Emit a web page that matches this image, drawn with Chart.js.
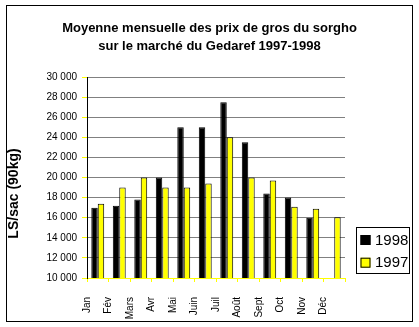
<!DOCTYPE html>
<html>
<head>
<meta charset="utf-8">
<script src="https://cdn.jsdelivr.net/npm/chart.js@4/dist/chart.umd.min.js"></script>
<style>
    html, body { margin: 0; padding: 0; background: #fff; }
    #cadre {
        position: absolute;
        left: 6px;
        top: 5px;
        width: 407px;
        height: 317px;
        box-sizing: border-box;
        border: 1px solid #000;
    }
    #cadre canvas { display: block; }
</style>
</head>
<body>
<div id="cadre"><canvas id="prixSorgho" width="405" height="315"></canvas></div>
<script>
// Mois et prix moyens (LS par sac de 90 kg)
const mois = ['Jan', 'Fév', 'Mars', 'Avr', 'Mai', 'Juin', 'Juil', 'Août', 'Sept', 'Oct', 'Nov', 'Déc'];
const prix1998 = [17000, 17200, 17800, 20000, 25000, 25000, 27500, 23500, 18400, 18000, 16000, null];
const prix1997 = [17400, 19000, 20000, 19000, 19000, 19400, 24000, 20000, 19700, 17100, 16900, 16050];
const annees = ['1998', '1997'];
const titre = ['Moyenne mensuelle des prix de gros du sorgho', 'sur le marché du Gedaref 1997-1998'];
const titreAxeY = 'LS/sac (90kg)';

const POLICE = '"Liberation Sans", Arial, sans-serif';
Chart.defaults.font.family = POLICE;
Chart.defaults.color = '#000';

// "30 000" style thousands
function formatMilliers(v) {
    return String(v).replace(/\B(?=(\d{3})+(?!\d))/g, ' ');
}

// Vertical axis title, drawn a bit below the plot centre
const titreY = {
    id: 'titreY',
    afterDraw(chart) {
        const ctx = chart.ctx;
        const a = chart.chartArea;
        ctx.save();
        ctx.translate(7, (a.top + a.bottom) / 2 + 16);
        ctx.rotate(-Math.PI / 2);
        ctx.font = 'bold 14px ' + POLICE;
        ctx.fillStyle = '#000';
        ctx.textAlign = 'center';
        ctx.textBaseline = 'middle';
        ctx.fillText(titreAxeY, 0, 0);
        ctx.restore();
    }
};

// Boxed legend to the right of the plot
const legendeEncadree = {
    id: 'legendeEncadree',
    afterDraw(chart) {
        const ctx = chart.ctx;
        const a = chart.chartArea;
        const x = a.right + 11;
        const y = a.bottom - 51;
        ctx.save();
        ctx.fillStyle = '#fff';
        ctx.fillRect(x, y, 53, 46);
        ctx.strokeStyle = '#000';
        ctx.lineWidth = 1;
        ctx.strokeRect(x + 0.5, y + 0.5, 53, 46);
        ctx.font = '15px ' + POLICE;
        ctx.textBaseline = 'middle';
        chart.data.datasets.forEach((ds, i) => {
            const sy = y + 8 + i * 22.7;
            ctx.fillStyle = ds.backgroundColor;
            ctx.fillRect(x + 4.5, sy, 10, 10);
            ctx.strokeStyle = '#000';
            ctx.strokeRect(x + 5, sy + 0.5, 9, 9);
            ctx.fillStyle = '#000';
            ctx.fillText(ds.label, x + 19, sy + 5.5);
        });
        ctx.restore();
    }
};

const ctx = document.getElementById('prixSorgho').getContext('2d');
new Chart(ctx, {
    type: 'bar',
    data: {
        labels: mois,
        datasets: [{
            label: annees[0],
            data: prix1998,
            backgroundColor: '#000000',
            borderColor: '#000000',
            borderWidth: 1
        }, {
            label: annees[1],
            data: prix1997,
            backgroundColor: '#ffff00',
            borderColor: '#000000',
            borderWidth: 1
        }]
    },
    options: {
        responsive: false,
        animation: false,
        events: [],
        datasets: {
            bar: { categoryPercentage: 0.6, barPercentage: 1 }
        },
        plugins: {
            legend: { display: false },
            tooltip: { enabled: false },
            title: {
                display: true,
                text: titre,
                color: '#000',
                font: { size: 13, weight: 'bold', lineHeight: 18 / 13 },
                padding: { top: 13, bottom: 22 }
            }
        },
        scales: {
            x: {
                offset: true,
                afterFit(scale) { scale.height = 43; },
                grid: {
                    offset: true,
                    drawOnChartArea: false,
                    drawTicks: true,
                    tickLength: 4,
                    tickColor: '#ffff00',
                    color: '#ffff00'
                },
                border: { color: '#ffff00', width: 1 },
                ticks: {
                    autoSkip: false,
                    minRotation: 90,
                    maxRotation: 90,
                    labelOffset: -11,
                    padding: 15,
                    font: { size: 10 }
                }
            },
            y: {
                min: 10000,
                max: 30000,
                afterFit(scale) { scale.width = 80; },
                grid: {
                    color: '#808080',
                    tickColor: '#ffff00',
                    tickLength: 5
                },
                border: { color: '#000', width: 1 },
                ticks: {
                    stepSize: 2000,
                    padding: 5,
                    font: { size: 10 },
                    callback: (v) => formatMilliers(v)
                }
            },
            // empty right-hand axis: keeps room for the legend box
            marge: {
                position: 'right',
                afterFit(scale) { scale.width = 67; },
                grid: { display: false },
                border: { display: false },
                ticks: { display: false }
            }
        }
    },
    plugins: [titreY, legendeEncadree]
});
</script>
</body>
</html>
